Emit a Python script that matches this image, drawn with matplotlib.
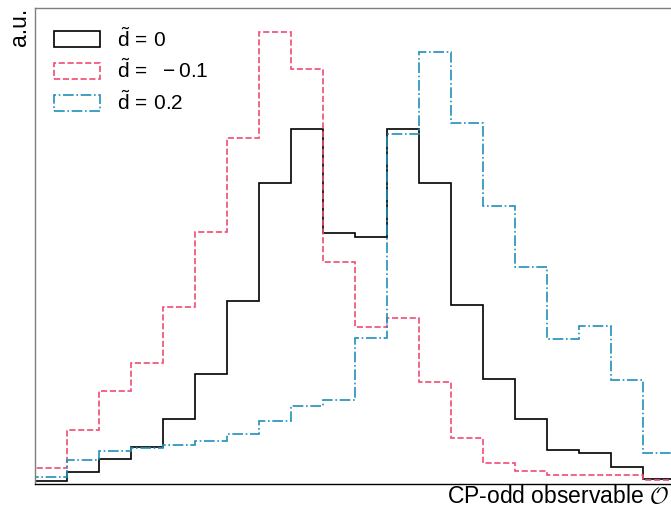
import numpy as np
import matplotlib
matplotlib.use("Agg")
import matplotlib.pyplot as plt

plt.rcParams['font.family'] = ['Liberation Sans', 'DejaVu Sans']
plt.rcParams['mathtext.fontset'] = 'custom'
plt.rcParams['mathtext.rm'] = 'Liberation Sans'
plt.rcParams['mathtext.it'] = 'Liberation Sans:italic'

# 20 bins of the CP-odd observable
bin_edges = np.linspace(-1.0, 1.0, 21)

# bin contents (arbitrary units)
d_0 = [3.0, 11.7, 24.7, 37.0, 65.0, 110.3, 182.7, 301.0, 354.7, 250.7,
       247.0, 355.3, 300.7, 179.0, 105.3, 64.7, 34.0, 31.0, 17.0, 4.7]
d_m01 = [15.7, 53.7, 92.7, 121.3, 176.7, 252.3, 345.7, 452.0, 415.3, 221.7,
         157.3, 166.0, 101.7, 45.7, 21.3, 13.3, 9.3, 9.3, 9.0, 4.0]
d_p02 = [7.0, 24.3, 33.0, 36.3, 39.3, 42.7, 50.3, 62.7, 77.7, 84.0,
         146.3, 349.7, 431.7, 361.0, 278.3, 216.7, 145.0, 158.3, 103.7, 31.3]

labels = [r'$\tilde{\mathrm{d}}\,=\,0$', r'$\tilde{\mathrm{d}}\,=\ \,-0.1$',
          r'$\tilde{\mathrm{d}}\,=\,0.2$']
colors = ['black', '#f04c75', '#2090b9']
styles = ['solid', 'dashed', 'dashdot']

fig = plt.figure(figsize=(6.71, 5.07), dpi=100)
ax = fig.add_axes([35 / 671, 23 / 507, 640 / 671, 476 / 507])

centers = 0.5 * (bin_edges[:-1] + bin_edges[1:])
for vals, lab, col, ls in zip([d_0, d_m01, d_p02], labels, colors, styles):
    ax.hist(centers, bins=bin_edges, weights=vals, histtype='step',
            color=col, linestyle=ls, linewidth=1.2, label=lab)

ax.set_xlim(bin_edges[0], bin_edges[-1])
ax.set_ylim(0, 476)
ax.set_xticks([])
ax.set_yticks([])

for side in ['left', 'top', 'right']:
    ax.spines[side].set_color('#7f7f7f')
ax.spines['bottom'].set_color('black')
for sp in ax.spines.values():
    sp.set_linewidth(1.0)

ax.set_ylabel('a.u.', loc='top', fontsize=16.5, labelpad=3)
ax.set_xlabel(r'CP-odd observable $\mathcal{O}$', loc='right', fontsize=16.5,
              labelpad=1, math_fontfamily='cm')
ax.xaxis.label.set_x(0.991)

leg = ax.legend(loc='upper left', fontsize=15, frameon=False,
                handlelength=2.2, handleheight=0.8, labelspacing=0.38,
                handletextpad=0.85, borderaxespad=0.5)

fig.savefig('out.png', dpi=100)
